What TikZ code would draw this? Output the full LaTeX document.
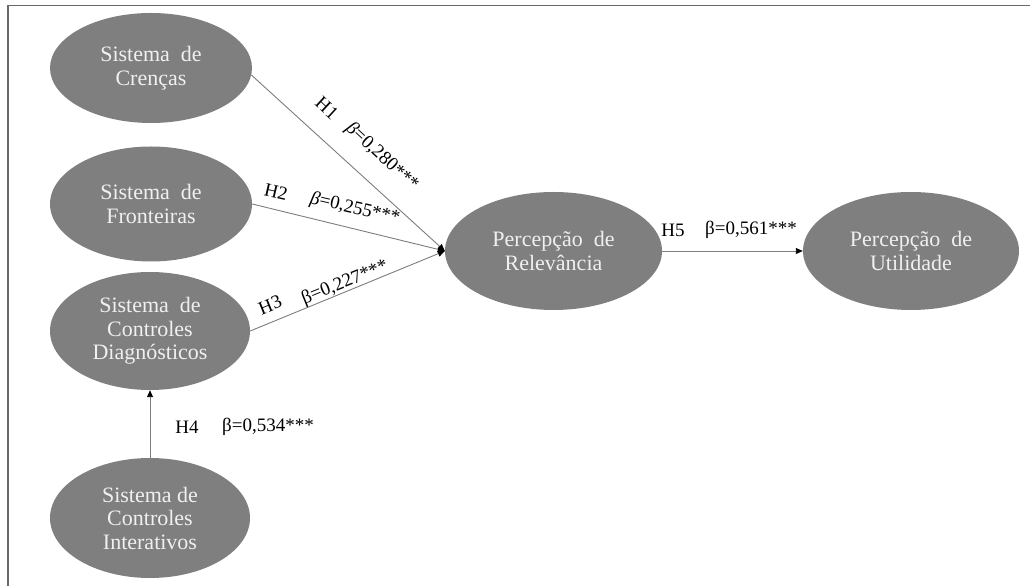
\documentclass[tikz,border=0pt]{standalone}
\usepackage{fontspec}
\setmainfont{Liberation Serif}
\usetikzlibrary{shapes.geometric,arrows.meta}
\definecolor{ellgray}{RGB}{127,127,127}
\definecolor{linegray}{RGB}{125,125,125}
\definecolor{framegray}{RGB}{105,105,105}
\begin{document}
\begin{tikzpicture}[x=1pt,y=1pt,
  construct/.style={ellipse, fill=ellgray, text=white!94!black, inner sep=0pt, align=center,
    font=\fontsize{22}{23.5}\selectfont},
  conn/.style={draw=linegray, line width=0.9pt, -{Triangle[length=7pt,width=6pt,black]}},
  lbl/.style={font=\fontsize{19}{21}\selectfont, text=black, inner sep=0pt}
]
\useasboundingbox (0,0) rectangle (1030,586);
\draw[framegray, line width=1.5pt] (8,0) -- (8,580.5) -- (1030,580.5);

\node[construct, minimum width=202pt, minimum height=110pt] (cren) at (151,518) {Sistema\ \ de\\Crenças};
\node[construct, minimum width=202pt, minimum height=115pt] (fron) at (151,382) {Sistema\ \ de\\Fronteiras};
\node[construct, minimum width=200pt, minimum height=118pt] (diag) at (150,255) {Sistema\ \ de\\Controles\\Diagnósticos};
\node[construct, minimum width=200pt, minimum height=120pt] (inter) at (150,68) {Sistema de\\Controles\\Interativos};
\node[construct, minimum width=217pt, minimum height=118pt] (rel) at (553.5,335) {Percepção\ \ de\\Relevância};
\node[construct, minimum width=216pt, minimum height=118pt] (util) at (911,335) {Percepção\ \ de\\Utilidade};

\draw[conn] (cren.-4) -- (rel.west);
\draw[conn] (fron.east) -- (rel.west);
\draw[conn] (diag.east) -- (rel.west);
\draw[conn] (inter.north) -- (diag.south);
\draw[conn] (rel.east) -- (util.west);

\node[lbl, rotate=-42.7] (h1) at (327,478) {H1};
\node[lbl, rotate=-42.7] (b1) at (382,429) {\textit{β}=0,280***};
\node[lbl, rotate=-13] (h2) at (276,394) {H2};
\node[lbl, rotate=-13] (b2) at (355,377) {\textit{β}=0,255***};
\node[lbl, rotate=22] (h3) at (270,281) {H3};
\node[lbl, rotate=22] (b3) at (345,303) {β=0,227***};
\node[lbl] (h4) at (187,159) {H4};
\node[lbl] (b4) at (268,159) {β=0,534***};
\node[lbl] (h5) at (673,356) {H5};
\node[lbl] (b5) at (751,356) {β=0,561***};
\end{tikzpicture}
\end{document}
